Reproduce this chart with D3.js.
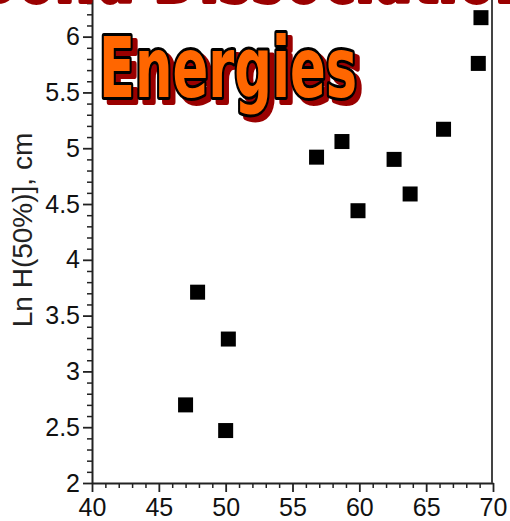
<!DOCTYPE html>
<html>
<head>
<meta charset="utf-8">
<script src="https://cdn.jsdelivr.net/npm/d3@7"></script>
<style>
  html, body { margin: 0; padding: 0; background: #fff; }
  svg { display: block; }
</style>
</head>
<body>
<svg id="chart" width="510" height="521"></svg>
<script>
// energy values (x) and Ln H(50%) (y)
const energy = [47.0, 47.9, 50.0, 50.2, 56.8, 58.7, 59.9, 62.6, 63.8, 66.3, 68.9, 69.1];
const lnH    = [2.70, 3.71, 2.47, 3.29, 4.92, 5.06, 4.44, 4.90, 4.59, 5.17, 5.76, 6.17];
const xTicks = [40, 45, 50, 55, 60, 65, 70];
const yTicks = [2, 2.5, 3, 3.5, 4, 4.5, 5, 5.5, 6];
const titleLines = ["Bond Dissociation", "Energies"];

const svg = d3.select("#chart");
const x = d3.scaleLinear().domain([40, 70]).range([92, 493]);
const y = d3.scaleLinear().domain([2, 6.4]).range([483, -8]);

const axisColor = "#222";
const font = "'Liberation Sans', Arial, sans-serif";

// minor ticks first
const xMinor = d3.range(40, 70.01, 1).filter(v => v % 5 !== 0);
const yMinor = d3.range(2, 6.41, 0.1).filter(v => Math.abs(v * 2 - Math.round(v * 2)) > 0.01);

svg.append("g")
  .attr("transform", "translate(0,483)")
  .call(d3.axisBottom(x).tickValues(xMinor).tickSize(5).tickFormat(""))
  .call(g => g.select(".domain").remove())
  .call(g => g.selectAll("line").attr("stroke", axisColor).attr("stroke-width", 1.5));

svg.append("g")
  .attr("transform", "translate(92,0)")
  .call(d3.axisLeft(y).tickValues(yMinor).tickSize(5).tickFormat(""))
  .call(g => g.select(".domain").remove())
  .call(g => g.selectAll("line").attr("stroke", axisColor).attr("stroke-width", 1.5));

// major axes
svg.append("g")
  .attr("transform", "translate(0,483)")
  .call(d3.axisBottom(x).tickValues(xTicks).tickSize(9).tickSizeOuter(0).tickPadding(6))
  .call(g => g.select(".domain").attr("stroke", axisColor).attr("stroke-width", 2))
  .call(g => g.selectAll("line").attr("stroke", axisColor).attr("stroke-width", 1.8))
  .call(g => g.selectAll("text").attr("fill", "#111").attr("font-size", 25).attr("font-family", font));

svg.append("g")
  .attr("transform", "translate(92,0)")
  .call(d3.axisLeft(y).tickValues(yTicks).tickSize(9).tickSizeOuter(0).tickPadding(3)
    .tickFormat(d => d3.format("")(d)))
  .call(g => g.select(".domain").attr("stroke", axisColor).attr("stroke-width", 2))
  .call(g => g.selectAll("line").attr("stroke", axisColor).attr("stroke-width", 1.8))
  .call(g => g.selectAll("text").attr("fill", "#111").attr("font-size", 25).attr("font-family", font));

// right frame line
svg.append("line")
  .attr("x1", x(70) - 1).attr("x2", x(70) - 1)
  .attr("y1", y(2)).attr("y2", y(6.4))
  .attr("stroke", "#444").attr("stroke-width", 2);

// y label
svg.append("text")
  .attr("transform", "translate(32,230) rotate(-90)")
  .attr("text-anchor", "middle")
  .attr("font-family", font)
  .attr("font-size", 28)
  .attr("fill", "#222")
  .text("Ln H(50%)], cm");

// points
const pts = energy.map((e, i) => ({ e, h: lnH[i] }));
const s = 15;
svg.append("g").selectAll("rect")
  .data(pts)
  .join("rect")
  .attr("x", d => x(d.e) - s / 2)
  .attr("y", d => y(d.h) - s / 2)
  .attr("width", s).attr("height", s)
  .attr("fill", "#000");

// title overlay: shadow, then outlined orange text
const titleFont = "'Liberation Sans Narrow', 'DejaVu Sans Condensed', sans-serif";
const title = [
  { t: titleLines[0], x: 250, y: -4, len: 560 },
  { t: titleLines[1], x: 228, y: 97, len: 258 }
];
const tg = svg.append("g")
  .attr("font-family", titleFont)
  .attr("font-weight", "bold")
  .attr("font-size", 84)
  .attr("text-anchor", "middle");

tg.selectAll("text.shadow")
  .data(title)
  .join("text")
  .attr("class", "shadow")
  .attr("x", d => d.x + 5).attr("y", d => d.y + 5)
  .attr("textLength", d => d.len).attr("lengthAdjust", "spacingAndGlyphs")
  .attr("fill", "#9a0000")
  .attr("stroke", "#9a0000").attr("stroke-width", 6).attr("stroke-linejoin", "round")
  .text(d => d.t);

tg.selectAll("text.main")
  .data(title)
  .join("text")
  .attr("class", "main")
  .attr("x", d => d.x).attr("y", d => d.y)
  .attr("textLength", d => d.len).attr("lengthAdjust", "spacingAndGlyphs")
  .attr("fill", "#ff6600")
  .attr("stroke", "#000").attr("stroke-width", 6).attr("stroke-linejoin", "round")
  .attr("paint-order", "stroke")
  .text(d => d.t);
</script>
</body>
</html>
